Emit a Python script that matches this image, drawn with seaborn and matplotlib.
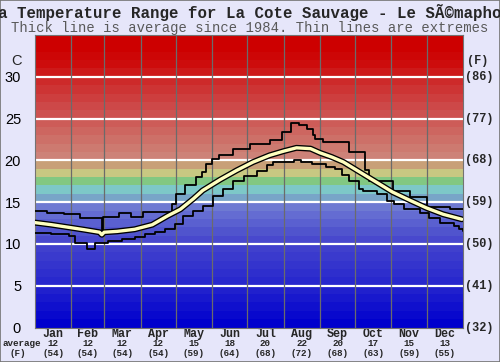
import numpy as np
import pandas as pd
import matplotlib
matplotlib.use("Agg")
import matplotlib.pyplot as plt
import matplotlib.transforms as mtransforms
import seaborn as sns

# ---------------- data ----------------
months = ["Jan", "Feb", "Mar", "Apr", "May", "Jun", "Jul", "Aug", "Sep", "Oct", "Nov", "Dec"]
month_avg_c = [12, 12, 12, 12, 15, 18, 20, 22, 20, 17, 15, 13]
month_avg_f = [54, 54, 54, 54, 59, 64, 68, 72, 68, 63, 59, 55]
month_start = [0, 31, 59, 90, 120, 151, 181, 212, 243, 273, 304, 334, 365]

avg_day = [0, 14, 28, 42, 55, 57, 59, 70, 85, 100, 113, 124, 135, 143, 158, 172, 186,
           200, 212, 223, 235, 243, 253, 263, 277, 291, 305, 320, 334, 348, 364]
avg_temp = [12.55, 12.3, 12.0, 11.7, 11.4, 11.1, 11.4, 11.5, 11.75, 12.3, 13.35, 14.15, 15.4,
            16.4, 17.7, 18.8, 19.8, 20.6, 21.1, 21.5, 21.4, 20.9, 20.4, 19.8, 18.6, 17.4,
            16.2, 15.2, 14.3, 13.55, 12.95]

max_day = [0, 10, 25, 38, 57, 58, 72, 82, 92, 117, 120, 128, 137, 142, 146, 151, 157, 169,
           183, 200, 211, 218, 225, 232, 237, 239, 246, 268, 281, 285, 305, 320, 334, 354, 365]
max_temp = [14.0, 13.75, 13.55, 13.05, 11.5, 13.2, 13.7, 13.2, 13.8, 14.75, 16.0, 17.0, 18.0,
            18.6, 19.6, 20.2, 20.6, 21.4, 22.0, 22.4, 23.4, 24.5, 24.2, 23.8, 23.0, 22.6,
            22.2, 21.0, 18.8, 17.5, 16.3, 15.6, 14.4, 14.15, 14.15]

min_day = [0, 14, 29, 34, 44, 51, 62, 74, 85, 94, 102, 111, 119, 126, 135, 143, 152, 160,
           169, 178, 189, 198, 203, 221, 227, 236, 248, 256, 262, 268, 276, 280, 292, 300,
           306, 315, 328, 336, 345, 357, 362, 365]
min_temp = [11.35, 11.2, 10.95, 10.15, 9.35, 10.15, 10.35, 10.55, 10.85, 11.15, 11.4, 11.75,
            12.35, 13.35, 13.95, 14.55, 15.75, 16.55, 17.55, 18.15, 18.75, 19.4, 19.8, 20.0,
            19.8, 19.6, 19.2, 19.0, 18.2, 17.55, 16.55, 16.35, 16.0, 15.15, 14.75, 14.15,
            13.75, 13.15, 12.55, 12.15, 11.75, 11.5]

c_ticks = [0, 5, 10, 15, 20, 25, 30]
f_ticks = ["(32)", "(41)", "(50)", "(59)", "(68)", "(77)", "(86)"]

# ---------------- style ----------------
band_colors = [
    (0, 0, 205), (8, 8, 205), (16, 16, 205), (24, 24, 205), (32, 32, 205),
    (40, 40, 205), (46, 46, 205), (52, 52, 205), (58, 58, 205), (64, 64, 205),
    (72, 72, 205), (80, 84, 205), (90, 96, 208), (100, 108, 210), (110, 122, 210),
    (120, 165, 200), (125, 200, 200), (130, 200, 130), (200, 200, 130), (200, 160, 120),
    (205, 130, 120), (205, 122, 112), (205, 112, 104), (205, 102, 96), (205, 92, 88),
    (205, 82, 80), (205, 72, 72), (205, 62, 62), (205, 52, 52), (205, 42, 42),
    (205, 25, 25), (205, 12, 12), (205, 6, 6), (205, 0, 0), (205, 0, 0),
]
bg = (230 / 255, 230 / 255, 250 / 255)
W, H = 500, 362

sns.set_theme(style="white")
plt.rcParams["font.family"] = ["Liberation Sans", "DejaVu Sans"]

fig = plt.figure(figsize=(W / 100, H / 100), dpi=100, facecolor=bg)
ax = fig.add_axes([35 / W, 1 - 327.5 / H, (463 - 35) / W, (327.5 - 35) / H])
ax.set_facecolor(bg)

for i, c in enumerate(band_colors):
    ax.axhspan(i, i + 1, color=np.array(c) / 255, lw=0, zorder=0)
for t in c_ticks[1:]:
    ax.axhline(t, color="white", lw=1.6, zorder=1)
for d in month_start[1:-1]:
    ax.axvline(d, color=(0.42, 0.42, 0.42), lw=0.9, zorder=1)

df_avg = pd.DataFrame({"day": avg_day, "temp": avg_temp})
df_max = pd.DataFrame({"day": max_day, "temp": max_temp})
df_min = pd.DataFrame({"day": min_day, "temp": min_temp})

sns.lineplot(data=df_max, x="day", y="temp", ax=ax, color="black", lw=1.3,
             drawstyle="steps-post", zorder=3)
sns.lineplot(data=df_min, x="day", y="temp", ax=ax, color="black", lw=1.3,
             drawstyle="steps-post", zorder=3)
sns.lineplot(data=df_avg, x="day", y="temp", ax=ax, color="black", lw=4.3, zorder=4)
sns.lineplot(data=df_avg, x="day", y="temp", ax=ax, color=(1.0, 1.0, 0.75), lw=2.4, zorder=5)

ax.set_xlim(0, 365)
ax.set_ylim(0, 35)
ax.set_xlabel("")
ax.set_ylabel("")

ax.set_yticks(c_ticks)
ax.set_yticklabels([str(t) for t in c_ticks], fontsize=10.5, color="black")
ax.tick_params(axis="y", length=0, pad=10)

mono = ["Liberation Mono", "DejaVu Sans Mono"]
mids = [(month_start[i] + month_start[i + 1]) / 2 for i in range(12)]
ax.set_xticks(mids)
ax.set_xticklabels(months, fontsize=8.4, fontweight="bold", family=mono)
ax.tick_params(axis="x", length=0, pad=0.5)

for s in ax.spines.values():
    s.set_color((0.45, 0.45, 0.45))
    s.set_linewidth(0.8)

trans_x = mtransforms.blended_transform_factory(ax.transData, fig.transFigure)
for m, c, f in zip(mids, month_avg_c, month_avg_f):
    ax.text(m, 1 - 344 / H, str(c), transform=trans_x, ha="center", va="center",
            fontsize=6.7, fontweight="bold", family=mono)
    ax.text(m, 1 - 353.5 / H, f"({f})", transform=trans_x, ha="center", va="center",
            fontsize=6.7, fontweight="bold", family=mono)

trans_r = mtransforms.blended_transform_factory(fig.transFigure, ax.transData)
for t, lab in zip(c_ticks, f_ticks):
    ax.text(465 / W, t, lab, transform=trans_r, ha="left", va="center",
            fontsize=8.6, fontweight="bold", family=mono)

fig.text(478 / W, 1 - 61 / H, "(F)", ha="center", va="center", fontsize=8.6,
         fontweight="bold", family=mono)
fig.text(17 / W, 1 - 61 / H, "C", ha="center", va="center", fontsize=10.5)
fig.text(22 / W, 1 - 344 / H, "average", ha="center", va="center", fontsize=6.7,
         fontweight="bold", family=mono)
fig.text(18 / W, 1 - 353.5 / H, "(F)", ha="center", va="center", fontsize=6.7,
         fontweight="bold", family=mono)

fig.text(0.5, 1 - 12.5 / H, "Sea Temperature Range for La Cote Sauvage - Le SÃ©maphore",
         ha="center", va="center", fontsize=11.3, fontweight="bold", family=mono)
fig.text(0.5, 1 - 28 / H, "Thick line is average since 1984. Thin lines are extremes",
         ha="center", va="center", fontsize=10, color=(0.35, 0.35, 0.35), family=mono)

fig.patches.append(plt.Rectangle((0, 0), 1, 1, transform=fig.transFigure, fill=False,
                                 edgecolor=(0.45, 0.45, 0.45), lw=1.2))

fig.savefig("out.png", dpi=100, facecolor=bg)
